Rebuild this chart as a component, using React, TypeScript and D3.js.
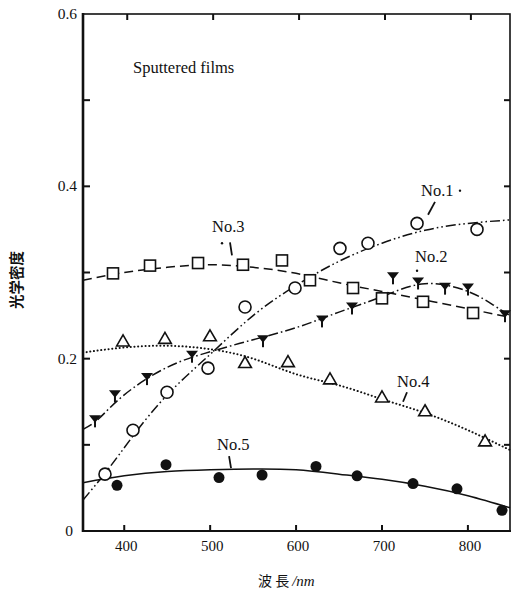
import React from "react";
import * as d3 from "d3";

// measured points (wavelength nm / optical density)
const s1Nm = [377.6, 410.2, 449.8, 497.5, 540.6, 598.8, 651.1, 683.7, 740.8, 810.6];
const s1Val = [0.066, 0.117, 0.161, 0.189, 0.26, 0.282, 0.328, 0.334, 0.357, 0.35];
const s2Nm = [366, 389.2, 426.5, 478.9, 561.5, 630.2, 665.1, 712.8, 742, 773.4, 800.1, 843.2];
const s2Val = [0.129, 0.158, 0.178, 0.204, 0.222, 0.245, 0.26, 0.295, 0.289, 0.283, 0.282, 0.251];
const s3Nm = [386.9, 430, 485.9, 538.2, 583.6, 616.2, 666.3, 700, 747.8, 806];
const s3Val = [0.299, 0.308, 0.311, 0.309, 0.314, 0.291, 0.282, 0.27, 0.266, 0.253];
const s4Nm = [398.6, 447.4, 499.8, 540.6, 590.6, 639.5, 700, 750.1, 820];
const s4Val = [0.219, 0.222, 0.225, 0.194, 0.195, 0.175, 0.154, 0.138, 0.103];
const s5Nm = [391.6, 448.6, 510.3, 560.4, 623.2, 671, 736.1, 787.3, 839.7];
const s5Val = [0.053, 0.077, 0.062, 0.065, 0.075, 0.064, 0.055, 0.049, 0.024];

// hand-drawn fitted curves
const c1Nm = [352, 380, 410, 450, 500, 550, 600, 650, 700, 750, 800, 849];
const c1Val = [0.036, 0.07, 0.11, 0.158, 0.205, 0.25, 0.285, 0.313, 0.334, 0.349, 0.357, 0.361];
const c2Nm = [352, 370, 400, 450, 500, 550, 600, 650, 700, 750, 800, 830, 849];
const c2Val = [0.118, 0.13, 0.158, 0.19, 0.208, 0.222, 0.236, 0.254, 0.272, 0.287, 0.278, 0.262, 0.25];
const c3Nm = [352, 400, 450, 500, 550, 600, 650, 700, 750, 800, 849];
const c3Val = [0.291, 0.3, 0.306, 0.309, 0.306, 0.299, 0.288, 0.278, 0.268, 0.258, 0.248];
const c4Nm = [352, 400, 450, 500, 550, 600, 650, 700, 750, 800, 849];
const c4Val = [0.207, 0.213, 0.215, 0.211, 0.2, 0.182, 0.169, 0.153, 0.137, 0.117, 0.094];
const c5Nm = [352, 400, 450, 500, 550, 600, 650, 700, 750, 800, 849];
const c5Val = [0.056, 0.064, 0.069, 0.071, 0.072, 0.071, 0.066, 0.06, 0.052, 0.041, 0.027];

const xTicks = [400, 500, 600, 700, 800];
const yTickLabels = [0, 0.2, 0.4, 0.6];
const yTicksMinor = [0.1, 0.2, 0.3, 0.4, 0.5];

const labelText = ["No.1", "No.2", "No.3", "No.4", "No.5"];
const labelNm = [745.4, 738.4, 502.2, 717.5, 508];
const labelVal = [0.389, 0.312, 0.347, 0.167, 0.094];
// leader strokes [nm1, v1, nm2, v2]
const leaders = [
  [761.7, 0.382, 753.6, 0.367],
  [523.1, 0.335, 525.4, 0.32],
  [729.1, 0.161, 724.5, 0.15],
  [522, 0.087, 524.3, 0.073],
];
const dotsNm = [790.8, 740.8, 513.8];
const dotsVal = [0.395, 0.302, 0.334];

const W = 516;
const H = 594;
const serif = "'Liberation Serif', 'DejaVu Serif', serif";
const cjk = "'Noto Sans CJK JP', sans-serif";

export default function App() {
  const x = d3.scaleLinear().domain([352, 849]).range([83, 510]);
  const y = d3.scaleLinear().domain([0, 0.6]).range([531, 14]);

  const line = (nm: number[], v: number[]) =>
    d3
      .line<number>()
      .x((_, i) => x(nm[i]))
      .y((d) => y(d))
      .curve(d3.curveNatural)(v) || "";

  const curves = [
    { d: line(c1Nm, c1Val), dash: "10,3,1.6,3,1.6,3", cap: "butt" },
    { d: line(c2Nm, c2Val), dash: "10,3,1.6,3", cap: "butt" },
    { d: line(c3Nm, c3Val), dash: "9,5", cap: "butt" },
    { d: line(c4Nm, c4Val), dash: "0.1,3.6", cap: "round" },
    { d: line(c5Nm, c5Val), dash: "none", cap: "butt" },
  ];

  const tri = d3.symbol(d3.symbolTriangle, 70)() || "";

  return (
    <svg width={W} height={H} style={{ position: "absolute", left: 0, top: 0, background: "#fff" }}>
      <rect width={W} height={H} fill="#fff" />
      {/* curves */}
      {curves.map((c, i) => (
        <path
          key={i}
          d={c.d}
          fill="none"
          stroke="#111"
          strokeWidth={i === 3 ? 2 : 1.5}
          strokeDasharray={c.dash}
          strokeLinecap={c.cap as any}
        />
      ))}

      {/* No.1 open circles */}
      {s1Nm.map((n, i) => (
        <circle key={"a" + i} cx={x(n)} cy={y(s1Val[i])} r={6} fill="#fff" stroke="#111" strokeWidth={1.6} />
      ))}
      {/* No.2 filled down triangles with stem */}
      {s2Nm.map((n, i) => (
        <g key={"b" + i} transform={`translate(${x(n)},${y(s2Val[i])})`}>
          <path d="M-6,-4.5 L6,-4.5 L0,3 Z" fill="#111" />
          <line x1={0} y1={0} x2={0} y2={7.5} stroke="#111" strokeWidth={2} />
        </g>
      ))}
      {/* No.3 open squares */}
      {s3Nm.map((n, i) => (
        <rect
          key={"c" + i}
          x={x(n) - 5.5}
          y={y(s3Val[i]) - 5.5}
          width={11}
          height={11}
          fill="#fff"
          stroke="#111"
          strokeWidth={1.6}
        />
      ))}
      {/* No.4 open triangles */}
      {s4Nm.map((n, i) => (
        <path
          key={"d" + i}
          d={tri}
          transform={`translate(${x(n)},${y(s4Val[i])})`}
          fill="#fff"
          stroke="#111"
          strokeWidth={1.6}
        />
      ))}
      {/* No.5 filled circles */}
      {s5Nm.map((n, i) => (
        <circle key={"e" + i} cx={x(n)} cy={y(s5Val[i])} r={5.5} fill="#111" />
      ))}

      {/* frame */}
      <rect x={83} y={14} width={427} height={517} fill="none" stroke="#111" strokeWidth={1.6} />
      <line x1={83} y1={13} x2={83} y2={532} stroke="#111" strokeWidth={2.6} />
      <line x1={82} y1={531} x2={511} y2={531} stroke="#111" strokeWidth={2.2} />

      {/* ticks */}
      {xTicks.map((t) => (
        <g key={"xt" + t}>
          <line x1={x(t)} x2={x(t)} y1={531} y2={525} stroke="#111" strokeWidth={2} />
          <line x1={x(t) + 3} x2={x(t) + 3} y1={14} y2={20} stroke="#111" strokeWidth={2} />
          <text x={x(t) + 2} y={551} textAnchor="middle" fontFamily={serif} fontSize={15} fill="#111">
            {t}
          </text>
        </g>
      ))}
      {yTicksMinor.map((t) => (
        <g key={"yt" + t}>
          <line x1={83} x2={90} y1={y(t)} y2={y(t)} stroke="#111" strokeWidth={2} />
          <line x1={510} x2={504} y1={y(t)} y2={y(t)} stroke="#111" strokeWidth={2} />
        </g>
      ))}
      {yTickLabels.map((t) => (
        <text
          key={"yl" + t}
          x={t === 0 ? 73 : 77}
          y={y(t) + 5}
          textAnchor="end"
          fontFamily={serif}
          fontSize={15.5}
          fill="#111"
        >
          {t === 0 ? "0" : d3.format(".1f")(t)}
        </text>
      ))}

      {/* annotations */}
      <text x={x(410.2)} y={y(0.532)} fontFamily={serif} fontSize={16.5} fill="#111">
        Sputtered films
      </text>
      {labelText.map((t, i) => (
        <text key={t} x={x(labelNm[i])} y={y(labelVal[i])} fontFamily={serif} fontSize={16.5} fill="#111">
          {t}
        </text>
      ))}
      {leaders.map((l, i) => (
        <line key={"ld" + i} x1={x(l[0])} y1={y(l[1])} x2={x(l[2])} y2={y(l[3])} stroke="#111" strokeWidth={1.8} />
      ))}
      {dotsNm.map((n, i) => (
        <circle key={"dt" + i} cx={x(n)} cy={y(dotsVal[i])} r={1.2} fill="#111" />
      ))}

      {/* axis titles */}
      <text
        transform="translate(22,280) rotate(-90)"
        textAnchor="middle"
        fontFamily={cjk}
        fontWeight="bold"
        fontSize={14.5}
        fill="#111"
      >
        光学密度
      </text>
      <text x={258} y={586} fontFamily={cjk} fontSize={14} fill="#111">
        波 長
        <tspan fontFamily={serif} fontStyle="italic" fontSize={15} dx={3}>
          /nm
        </tspan>
      </text>
    </svg>
  );
}
